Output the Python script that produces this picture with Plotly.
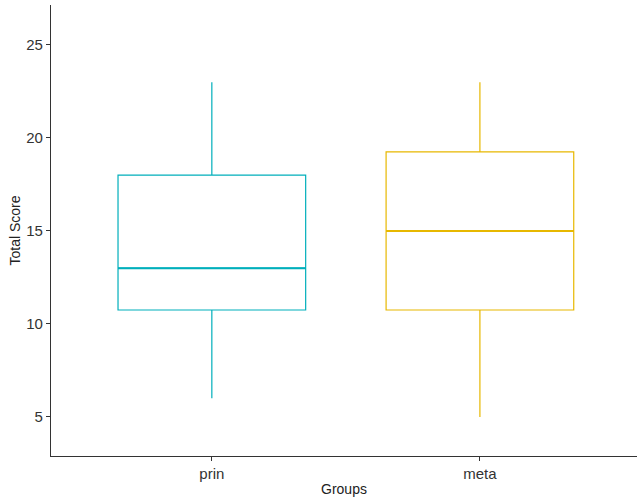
import plotly.graph_objects as go

groups = ["prin", "meta"]
colors = ["#00AFBB", "#E7B800"]
lower_whisker = [6, 5]
q1 = [10.75, 10.75]
median = [13, 15]
q3 = [18, 19.25]
upper_whisker = [23, 23]

fig = go.Figure()
for i, g in enumerate(groups):
    fig.add_trace(go.Box(
        x=[g], q1=[q1[i]], median=[median[i]], q3=[q3[i]],
        lowerfence=[lower_whisker[i]], upperfence=[upper_whisker[i]],
        name=g, width=0.7, whiskerwidth=0,
        line=dict(color=colors[i], width=1.2),
        fillcolor="rgba(255,255,255,0)", boxpoints=False, hoverinfo="y",
    ))
    # thicker median line, as in ggplot
    fig.add_trace(go.Scatter(
        x=[i - 0.35, i + 0.35], y=[median[i], median[i]], xaxis="x2",
        mode="lines", line=dict(color=colors[i], width=2), hoverinfo="skip",
        showlegend=False,
    ))

axis_font = dict(family="Liberation Sans, Arial", size=15, color="#333333")
fig.update_layout(
    width=637, height=504,
    margin=dict(l=51, r=0, t=5, b=48),
    plot_bgcolor="white", paper_bgcolor="white",
    showlegend=False,
    font=dict(family="Liberation Sans, Arial", size=14, color="black"),
    xaxis=dict(
        type="category", range=[-0.6, 1.586], showgrid=False, zeroline=False,
        showline=True, linecolor="#333333", linewidth=1.2,
        ticks="outside", ticklen=4, tickcolor="#333333", tickwidth=1.2,
        tickfont=axis_font,
        title=dict(text="Groups", font=dict(size=14, color="#222222"), standoff=3),
    ),
    xaxis2=dict(range=[-0.6, 1.586], overlaying="x", visible=False),
    yaxis=dict(
        range=[2.9, 27.15], showgrid=False, zeroline=False,
        showline=True, linecolor="#333333", linewidth=1.2,
        ticks="outside", ticklen=4, tickcolor="#333333", tickwidth=1.2,
        tickvals=[5, 10, 15, 20, 25], tickfont=axis_font,
        title=dict(text="Total Score", font=dict(size=14, color="#222222"), standoff=2),
    ),
)

fig.write_html("out.html")
